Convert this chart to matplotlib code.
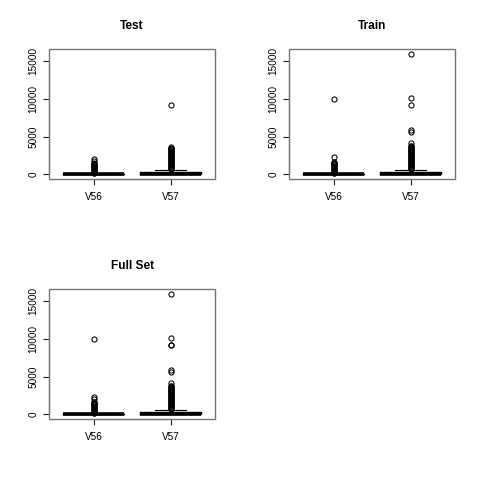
import matplotlib
matplotlib.use("Agg")
import matplotlib.pyplot as plt
from matplotlib.patches import Rectangle

plt.rcParams['font.family'] = ['Liberation Sans', 'DejaVu Sans']

# ---------------- data ----------------
panel_titles = ["Test", "Train", "Full Set"]
variables = ["V56", "V57"]
y_ticks = [0, 5000, 10000, 15000]

# box statistics per panel: [V56, V57]
q1_vals = [[0, 30], [0, 30], [0, 30]]
median_vals = [[10, 100], [10, 100], [10, 100]]
q3_vals = [[40, 280], [40, 280], [40, 280]]
whislo_vals = [[0, 0], [0, 0], [0, 0]]
whishi_vals = [[100, 620], [100, 620], [100, 620]]

# outliers
test_v56_out = [150, 250, 350, 450, 550, 650, 750, 850, 950, 1050, 1150,
                1250, 1350, 1420, 1500, 1750, 2100]
test_v57_out = [700, 800, 900, 1000, 1100, 1200, 1300, 1400, 1500, 1600,
                1700, 1800, 1900, 2000, 2100, 2200, 2300, 2400, 2500, 2600,
                2700, 2800, 2900, 3000, 3100, 3200, 3300, 3400, 3500, 3600,
                9200]
train_v56_out = [150, 250, 350, 450, 550, 650, 750, 850, 950, 1050, 1150,
                 1250, 1350, 1450, 1550, 1620, 2250, 10000]
train_v57_out = [700, 800, 900, 1000, 1100, 1200, 1300, 1400, 1500, 1600,
                 1700, 1800, 1900, 2000, 2100, 2200, 2300, 2400, 2500, 2600,
                 2700, 2800, 2900, 3000, 3100, 3200, 3300, 3400, 3500, 3600,
                 3700, 3800, 4150, 5550, 5900, 9100, 10050, 15900]
full_v56_out = [150, 250, 350, 450, 550, 650, 750, 850, 950, 1050, 1150,
                1250, 1350, 1450, 1550, 1620, 2050, 2250, 10000]
full_v57_out = [700, 800, 900, 1000, 1100, 1200, 1300, 1400, 1500, 1600,
                1700, 1800, 1900, 2000, 2100, 2200, 2300, 2400, 2500, 2600,
                2700, 2800, 2900, 3000, 3100, 3200, 3300, 3400, 3500, 3600,
                3700, 3800, 4150, 5550, 5900, 9100, 9200, 10050, 15900]
outliers = [[test_v56_out, test_v57_out],
            [train_v56_out, train_v57_out],
            [full_v56_out, full_v57_out]]

# ---------------- layout ----------------
W = H = 480
ax_w, ax_h = 165.7, 130.3
rects = [
    [49.3 / W, (H - 179.3) / H, ax_w / W, ax_h / H],
    [289.3 / W, (H - 179.3) / H, ax_w / W, ax_h / H],
    [49.3 / W, (H - 419.3) / H, ax_w / W, ax_h / H],
]

fig = plt.figure(figsize=(4.8, 4.8), dpi=100)
fig.patch.set_facecolor("white")

ymax = 15900
for p, title in enumerate(panel_titles):
    ax = fig.add_axes(rects[p])
    stats = []
    for i, var in enumerate(variables):
        stats.append(dict(label=var,
                          q1=q1_vals[p][i], med=median_vals[p][i],
                          q3=q3_vals[p][i], whislo=whislo_vals[p][i],
                          whishi=whishi_vals[p][i], fliers=outliers[p][i]))
    ax.bxp(stats, positions=[1, 2], widths=0.8, capwidths=0.4,
           boxprops=dict(color="black", linewidth=1),
           medianprops=dict(color="black", linewidth=2.6, solid_capstyle="butt"),
           whiskerprops=dict(color="black", linewidth=0.8, linestyle="--"),
           capprops=dict(color="black", linewidth=0.8),
           flierprops=dict(marker="o", markerfacecolor="none",
                           markeredgecolor="black", markersize=3.7,
                           markeredgewidth=0.75, linestyle="none"))
    ax.set_xlim(0.42, 2.58)
    ax.set_ylim(-0.04 * ymax, 1.04 * ymax)

    for s in ax.spines.values():
        s.set_visible(False)
    ax.add_patch(Rectangle((0, 0), 1, 1, transform=ax.transAxes, fill=False,
                           edgecolor="#777777", linewidth=1.0, clip_on=False,
                           zorder=5))
    ax.spines['left'].set_visible(True)
    ax.spines['left'].set_bounds(0, 15000)
    ax.spines['left'].set_color("#222222")
    ax.spines['left'].set_linewidth(0.8)
    ax.spines['bottom'].set_visible(True)
    ax.spines['bottom'].set_bounds(1, 2)
    ax.spines['bottom'].set_color("#222222")
    ax.spines['bottom'].set_linewidth(0.8)

    ax.set_yticks(y_ticks)
    ax.set_yticklabels([str(t) for t in y_ticks], rotation=90, va="center")
    ax.set_xticks([1, 2])
    ax.set_xticklabels(variables)
    ax.tick_params(axis="both", direction="out", length=4.5, width=0.8,
                   color="#222222", labelsize=7.2)
    ax.tick_params(axis="x", pad=5)
    ax.tick_params(axis="y", pad=3.5)
    ax.set_title(title, fontsize=8.6, fontweight="bold", pad=14.4)

fig.savefig("out.png", dpi=100, facecolor="white")
